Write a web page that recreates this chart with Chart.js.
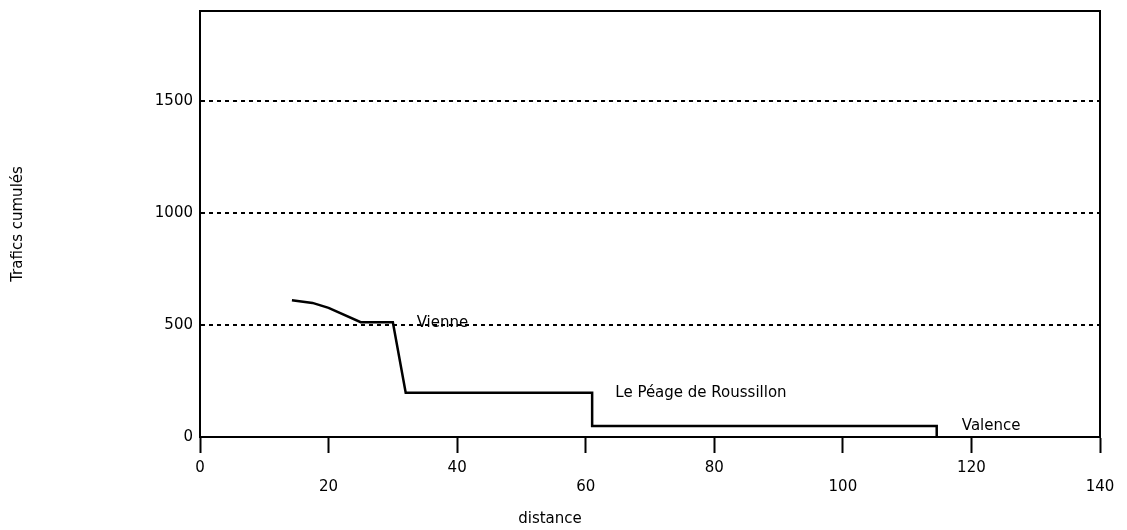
<!DOCTYPE html>
<html>
<head>
<meta charset="utf-8">
<script src="https://cdn.jsdelivr.net/npm/chart.js@4/dist/chart.umd.min.js"></script>
<style>
  html, body { margin: 0; padding: 0; background: #fff; }
  #wrap { width: 1127px; height: 530px; position: relative; }
</style>
</head>
<body>
<div id="wrap"><canvas id="c" width="1127" height="530"></canvas></div>
<script>
// ---- data ----
const distance = [14.3, 17.5, 20, 25, 30, 32, 61, 61, 114.6, 114.6];
const trafics  = [610, 598, 576, 512, 512, 197, 197, 49, 49, 0];
const xTicks = [0, 20, 40, 60, 80, 100, 120, 140];
const yTicks = [0, 500, 1000, 1500];
const placeNames = ['Vienne', 'Le Péage de Roussillon', 'Valence'];
const placeX = [33.7, 64.6, 118.5];
const placeY = [507, 195, 49];

const FONT = 'DejaVu Sans';
const INK = '#000';

const points = distance.map((d, i) => ({ x: d, y: trafics[i] }));

const placeLabels = {
  id: 'placeLabels',
  afterDatasetsDraw(chart) {
    const { ctx, scales: { x, y } } = chart;
    ctx.save();
    ctx.font = '15px "' + FONT + '"';
    ctx.fillStyle = INK;
    ctx.textAlign = 'left';
    ctx.textBaseline = 'middle';
    placeNames.forEach((n, i) => {
      ctx.fillText(n, x.getPixelForValue(placeX[i]), y.getPixelForValue(placeY[i]));
    });
    ctx.restore();
  }
};

const frame = {
  id: 'frame',
  afterDraw(chart) {
    const { ctx, chartArea: a } = chart;
    ctx.save();
    ctx.strokeStyle = INK;
    ctx.lineWidth = 2;
    ctx.beginPath();
    ctx.moveTo(a.left, a.top);
    ctx.lineTo(a.right, a.top);
    ctx.lineTo(a.right, a.bottom);
    ctx.stroke();
    ctx.restore();
  }
};

new Chart(document.getElementById('c'), {
  type: 'line',
  data: {
    datasets: [{
      data: points,
      borderColor: INK,
      borderWidth: 2.5,
      pointRadius: 0,
      tension: 0,
      fill: false
    }]
  },
  options: {
    responsive: false,
    animation: false,
    devicePixelRatio: 1,
    layout: { padding: { top: 11, right: 27, left: 0, bottom: 0 } },
    plugins: {
      legend: { display: false },
      tooltip: { enabled: false },
      title: {
        display: true,
        position: 'bottom',
        text: 'distance',
        color: INK,
        font: { family: FONT, size: 15, weight: 'normal', lineHeight: 1.2 },
        padding: { top: 2, bottom: 2 }
      }
    },
    scales: {
      x: {
        type: 'linear',
        min: 0, max: 140,
        afterBuildTicks(scale) { scale.ticks = xTicks.map(v => ({ value: v })); },
        afterFit(scale) { scale.height = 71; },
        ticks: {
          color: INK,
          padding: 6,
          maxRotation: 0,
          autoSkip: false,
          font: { family: FONT, size: 15, lineHeight: 1.27 },
          callback(v) { return (v / 20) % 2 === 1 ? ['', String(v)] : String(v); }
        },
        grid: {
          drawOnChartArea: false,
          drawTicks: true,
          tickLength: 16,
          tickWidth: 2,
          tickColor: INK
        },
        border: { display: true, color: INK, width: 2 }
      },
      y: {
        type: 'linear',
        min: 0, max: 1900,
        afterBuildTicks(scale) { scale.ticks = yTicks.map(v => ({ value: v })); },
        afterFit(scale) { scale.width = 200; scale.paddingTop = 0; scale.paddingBottom = 0; },
        title: {
          display: true,
          text: 'Trafics cumulés',
          color: INK,
          font: { family: FONT, size: 15, lineHeight: 1.2 },
          padding: { top: 9, bottom: 0 }
        },
        ticks: {
          color: INK,
          padding: 7,
          font: { family: FONT, size: 15 },
          callback(v) { return String(v); }
        },
        grid: {
          drawTicks: false,
          lineWidth: 2,
          color(ctx) { return ctx.tick && ctx.tick.value === 0 ? 'rgba(0,0,0,0)' : INK; }
        },
        border: { display: true, color: INK, width: 2, dash: [4, 4] }
      }
    }
  },
  plugins: [placeLabels, frame]
});
</script>
</body>
</html>
